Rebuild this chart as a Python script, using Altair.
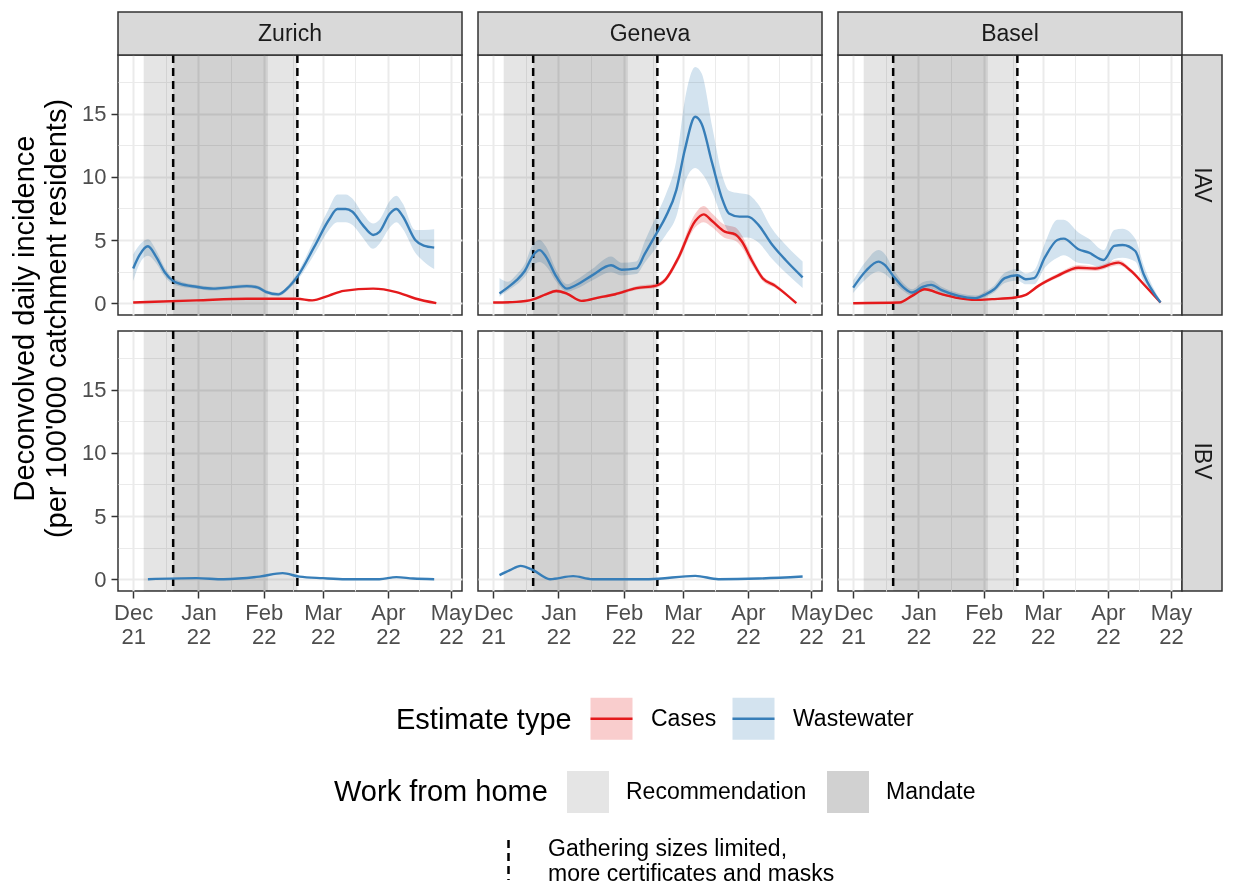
import altair as alt
import pandas as pd

# ---------------- data ----------------
START = "2021-12-01"  # day offsets below count from this date
CITIES = ["Zurich", "Geneva", "Basel"]
VIRUSES = ["IAV", "IBV"]
EST_TYPES = ["Cases", "Wastewater"]
EST_COLORS = ["#e41a1c", "#377eb8"]
EST_BAND_COLORS = ["#f9cdcd", "#d3e3ef"]
WFH_TYPES = ["Recommendation", "Mandate"]
WFH_START = ["2021-12-06", "2021-12-20", "2022-02-03"]
WFH_END = ["2021-12-20", "2022-02-03", "2022-02-17"]
WFH_KIND = ["Recommendation", "Mandate", "Recommendation"]
GATHER_DATES = ["2021-12-20", "2022-02-17"]
GATHER_LABEL = "Gathering sizes limited,\nmore certificates and masks"

# Zurich IAV
ZH_IAV_WW_DAY = [0, 3, 7, 11, 15, 19, 22, 30, 38, 46, 54, 59, 63, 69, 74, 78, 86, 93, 97, 101, 104, 109, 114, 117, 122, 125, 128, 134, 138, 143]
ZH_IAV_WW = [2.75, 3.8, 4.5, 3.65, 2.45, 1.75, 1.55, 1.3, 1.15, 1.25, 1.35, 1.25, 0.9, 0.7, 1.3, 2.1, 4.45, 6.6, 7.45, 7.45, 7.25, 6.2, 5.4, 5.65, 7.1, 7.45, 6.9, 5.0, 4.55, 4.4]
ZH_IAV_WW_LO = [1.75, 3.1, 3.75, 3.15, 2.1, 1.5, 1.35, 1.15, 1.0, 1.1, 1.2, 1.1, 0.75, 0.55, 1.1, 1.8, 3.85, 5.8, 6.4, 6.4, 6.2, 5.2, 4.3, 4.7, 6.0, 6.4, 5.9, 4.0, 3.3, 2.7]
ZH_IAV_WW_HI = [3.85, 4.6, 5.05, 4.15, 2.8, 2.0, 1.75, 1.45, 1.3, 1.4, 1.5, 1.4, 1.05, 0.85, 1.5, 2.4, 5.05, 7.5, 8.6, 8.6, 8.3, 7.1, 6.3, 6.6, 8.1, 8.5, 7.9, 5.8, 5.8, 5.85]
ZH_IAV_CASES_DAY = [0, 30, 54, 78, 85, 93, 100, 114, 125, 134, 144]
ZH_IAV_CASES = [0.05, 0.22, 0.35, 0.35, 0.22, 0.6, 0.97, 1.15, 0.88, 0.37, 0.0]

# Geneva IAV
GE_IAV_WW_DAY = [3, 7, 11, 15, 19, 22, 25, 30, 35, 39, 47, 56, 61, 68, 72, 78, 82, 87, 91, 96, 99, 104, 109, 112, 117, 121, 126, 132, 139, 147]
GE_IAV_WW = [0.77, 1.25, 1.8, 2.55, 3.8, 4.2, 3.7, 2.1, 1.15, 1.4, 2.2, 3.0, 2.65, 2.75, 3.9, 5.65, 6.85, 8.95, 12.1, 14.75, 14.2, 11.1, 8.15, 7.1, 6.85, 6.85, 6.2, 4.75, 3.4, 2.05]
GE_IAV_WW_LO = [0.5, 1.0, 1.45, 2.1, 3.0, 3.25, 2.95, 1.7, 0.9, 1.1, 1.8, 2.45, 2.2, 2.3, 3.2, 4.5, 5.4, 6.85, 9.5, 10.7, 10.3, 8.8, 6.6, 5.6, 5.2, 5.2, 4.8, 3.6, 2.4, 1.2]
GE_IAV_WW_HI = [2.0, 1.7, 2.25, 3.1, 4.7, 5.0, 4.5, 2.6, 1.5, 1.8, 2.7, 3.7, 3.2, 3.3, 4.9, 7.1, 8.6, 11.3, 16.0, 18.7, 18.2, 14.0, 10.0, 8.9, 8.7, 8.6, 7.8, 6.0, 4.6, 3.3]
GE_IAV_CASES_DAY = [0, 11, 19, 25, 30, 35, 42, 50, 58, 68, 77, 82, 88, 96, 100, 104, 110, 115, 118, 123, 128, 134, 144]
GE_IAV_CASES = [0.05, 0.1, 0.3, 0.7, 0.97, 0.76, 0.18, 0.44, 0.71, 1.19, 1.37, 1.9, 3.6, 6.5, 7.03, 6.5, 5.66, 5.45, 4.92, 3.34, 1.98, 1.37, 0.0]
GE_IAV_CASES_LO = [0.0, 0.05, 0.25, 0.6, 0.85, 0.65, 0.12, 0.35, 0.6, 1.05, 1.2, 1.7, 3.3, 6.0, 6.4, 6.0, 5.15, 4.95, 4.45, 3.0, 1.75, 1.2, 0.0]
GE_IAV_CASES_HI = [0.1, 0.15, 0.4, 0.8, 1.1, 0.87, 0.25, 0.55, 0.82, 1.35, 1.55, 2.1, 3.9, 7.1, 7.7, 7.1, 6.2, 6.0, 5.4, 3.7, 2.2, 1.55, 0.05]

# Basel IAV
BS_IAV_WW_DAY = [0, 6, 12, 15, 19, 24, 28, 33, 37, 42, 50, 58, 63, 67, 72, 78, 82, 86, 91, 97, 100, 107, 112, 119, 124, 128, 134, 138, 146]
BS_IAV_WW = [1.23, 2.55, 3.29, 3.03, 2.16, 1.23, 0.84, 1.29, 1.45, 1.03, 0.58, 0.4, 0.71, 1.1, 1.98, 2.21, 1.9, 1.98, 3.6, 5.0, 5.11, 4.27, 4.0, 3.42, 4.53, 4.61, 4.13, 2.29, 0.05]
BS_IAV_WW_LO = [0.8, 1.9, 2.5, 2.3, 1.7, 0.95, 0.6, 1.0, 1.15, 0.8, 0.4, 0.25, 0.5, 0.85, 1.6, 1.8, 1.5, 1.5, 2.8, 3.6, 3.8, 3.2, 3.1, 2.75, 3.5, 3.6, 3.3, 1.7, 0.0]
BS_IAV_WW_HI = [1.8, 3.3, 4.2, 3.9, 2.7, 1.55, 1.1, 1.65, 1.8, 1.3, 0.8, 0.6, 0.95, 1.4, 2.4, 2.7, 2.35, 2.6, 4.7, 6.6, 6.6, 5.6, 5.1, 4.2, 5.8, 5.9, 5.1, 3.0, 0.2]
BS_IAV_CASES_DAY = [0, 22, 28, 34, 42, 50, 58, 66, 77, 82, 88, 97, 107, 115, 126, 132, 138, 146]
BS_IAV_CASES = [0.0, 0.05, 0.58, 1.1, 0.71, 0.4, 0.26, 0.32, 0.45, 0.66, 1.37, 2.16, 2.81, 2.74, 3.21, 2.55, 1.5, 0.05]
BS_IAV_CASES_LO = [0.0, 0.02, 0.5, 1.0, 0.63, 0.34, 0.2, 0.26, 0.38, 0.58, 1.25, 2.0, 2.6, 2.55, 3.0, 2.38, 1.38, 0.0]
BS_IAV_CASES_HI = [0.05, 0.1, 0.66, 1.2, 0.8, 0.46, 0.32, 0.38, 0.52, 0.74, 1.5, 2.32, 3.02, 2.93, 3.42, 2.72, 1.62, 0.1]

# IBV (wastewater only)
ZH_IBV_WW_DAY = [7, 30, 43, 60, 71, 79, 90, 101, 117, 125, 133, 143]
ZH_IBV_WW = [0.0, 0.08, 0.0, 0.2, 0.48, 0.2, 0.08, 0.0, 0.0, 0.16, 0.05, 0.0]
GE_IBV_WW_DAY = [3, 8, 13, 19, 27, 38, 47, 74, 96, 107, 126, 147]
GE_IBV_WW = [0.32, 0.71, 1.05, 0.71, 0.0, 0.24, 0.0, 0.0, 0.26, 0.0, 0.05, 0.21]

# ---------------- layout / style constants ----------------
PANEL_W, PANEL_H, STRIP, RSTRIP = 344, 260, 43, 40
Y_DOMAIN = [-0.935, 19.64]
Y_GRID = [0, 2.5, 5, 7.5, 10, 12.5, 15, 17.5]
X_DOMAIN = [alt.DateTime(year=2021, month=11, date=23, hours=19),
            alt.DateTime(year=2022, month=5, date=6, hours=5)]
X_GRID = [alt.DateTime(year=2021, month=12, date=1), alt.DateTime(year=2021, month=12, date=16, hours=12),
          alt.DateTime(year=2022, month=1, date=1), alt.DateTime(year=2022, month=1, date=16, hours=12),
          alt.DateTime(year=2022, month=2, date=1), alt.DateTime(year=2022, month=2, date=15),
          alt.DateTime(year=2022, month=3, date=1), alt.DateTime(year=2022, month=3, date=16, hours=12),
          alt.DateTime(year=2022, month=4, date=1), alt.DateTime(year=2022, month=4, date=16),
          alt.DateTime(year=2022, month=5, date=1)]
FONT = "Liberation Sans"
TICK, LABEL, BIG = 22, 23, 29


def iso_from_days(days):
    base = pd.Timestamp(START)
    return [(base + pd.Timedelta(days=d)).strftime("%Y-%m-%dT%H:%M:%S") for d in days]


def iso(dates):
    return [pd.Timestamp(d).strftime("%Y-%m-%dT%H:%M:%S") for d in dates]


LINES = {
    ("Zurich", "IAV"): [("Cases", ZH_IAV_CASES_DAY, ZH_IAV_CASES), ("Wastewater", ZH_IAV_WW_DAY, ZH_IAV_WW)],
    ("Geneva", "IAV"): [("Cases", GE_IAV_CASES_DAY, GE_IAV_CASES), ("Wastewater", GE_IAV_WW_DAY, GE_IAV_WW)],
    ("Basel", "IAV"): [("Cases", BS_IAV_CASES_DAY, BS_IAV_CASES), ("Wastewater", BS_IAV_WW_DAY, BS_IAV_WW)],
    ("Zurich", "IBV"): [("Wastewater", ZH_IBV_WW_DAY, ZH_IBV_WW)],
    ("Geneva", "IBV"): [("Wastewater", GE_IBV_WW_DAY, GE_IBV_WW)],
    ("Basel", "IBV"): [],
}
BANDS = {
    ("Zurich", "IAV"): [("Wastewater", ZH_IAV_WW_DAY, ZH_IAV_WW_LO, ZH_IAV_WW_HI)],
    ("Geneva", "IAV"): [("Cases", GE_IAV_CASES_DAY, GE_IAV_CASES_LO, GE_IAV_CASES_HI),
                        ("Wastewater", GE_IAV_WW_DAY, GE_IAV_WW_LO, GE_IAV_WW_HI)],
    ("Basel", "IAV"): [("Cases", BS_IAV_CASES_DAY, BS_IAV_CASES_LO, BS_IAV_CASES_HI),
                       ("Wastewater", BS_IAV_WW_DAY, BS_IAV_WW_LO, BS_IAV_WW_HI)],
}

wfh_df = pd.DataFrame({"start": iso(WFH_START), "end": iso(WFH_END), "wfh": WFH_KIND})
gather_df = pd.DataFrame({"date": iso(GATHER_DATES), "measure": [GATHER_LABEL] * len(GATHER_DATES)})

# ---------------- legends ----------------
KEY = 42  # legend key side in px


def legend_common(**kw):
    d = dict(orient="none", direction="horizontal", titleOrient="left", titleFontSize=BIG,
             titleFontWeight="normal", titleFont=FONT, labelFont=FONT, labelFontSize=LABEL,
             titlePadding=17, labelOffset=17, columnPadding=14, padding=0,
             titleAnchor="middle", titleBaseline="middle", titleColor="black", labelColor="black",
             titleLimit=800, labelLimit=800)
    d.update(kw)
    return alt.Legend(**d)


# key = light square (band fill) with the estimate line through its middle:
# one closed path whose dash only strokes its first segment (the middle line)
KEY_PATH = "M-1,0L1,0L1,-1L-1,-1L-1,1L1,1L1,0Z"
EST_LEGEND = legend_common(title="Estimate type", legendX=278, legendY=641, symbolType=KEY_PATH,
                           symbolSize=KEY * KEY, symbolStrokeWidth=2.5, symbolDash=[KEY, 600],
                           symbolOpacity=1, columnPadding=10)
WFH_LEGEND = legend_common(title="Work from home", legendX=216, legendY=716, symbolType="square",
                           symbolSize=KEY * KEY, symbolStrokeWidth=0, titlePadding=19, columnPadding=20)
# vertical dashed key, drawn so that it is centred on the two-line label
GATHER_LEGEND = alt.Legend(title=None, orient="none", legendX=369, legendY=772,
                           symbolType="M0,-0.425L0,1.575",
                           symbolSize=40 * 40, symbolStrokeWidth=2.5, symbolStrokeColor="black",
                           labelExpr="split(datum.label, '\\n')", labelLimit=800, labelOffset=18,
                           labelFontSize=LABEL, labelFont=FONT, labelColor="black", padding=0)

MAJOR_X = "date(datum.value) == 1"
MAJOR_Y = "datum.value % 5 == 0"


def x_axis(show):
    common = dict(values=X_GRID, grid=True, gridColor="#ebebeb",
                  gridWidth={"condition": {"test": MAJOR_X, "value": 2}, "value": 1},
                  domain=False, title=None)
    if not show:
        return alt.Axis(labels=False, ticks=False, **common)
    return alt.Axis(labelExpr=MAJOR_X + " ? [timeFormat(datum.value, '%b'), timeFormat(datum.value, '%y')] : ''",
                    labelFontSize=TICK, labelColor="#4d4d4d", labelFont=FONT, labelLineHeight=24,
                    labelPadding=4, labelOverlap=False, labelFlush=False,
                    tickColor="#333333", tickSize=7, tickWidth=1.5,
                    tickOpacity={"condition": {"test": MAJOR_X, "value": 1}, "value": 0}, **common)


def y_axis(show, with_title):
    common = dict(values=Y_GRID, grid=True, gridColor="#ebebeb",
                  gridWidth={"condition": {"test": MAJOR_Y, "value": 2}, "value": 1}, domain=False)
    if not show:
        return alt.Axis(labels=False, ticks=False, title=None, **common)
    if with_title:
        extra = dict(title=["Deconvolved daily incidence", "(per 100'000 catchment residents)"],
                     titleFontSize=BIG, titleFontWeight="normal", titleColor="black", titleFont=FONT,
                     titleY=263, titlePadding=10, titleLineHeight=32)
    else:
        extra = dict(title=None)
    return alt.Axis(labelExpr=MAJOR_Y + " ? datum.label : ''", labelFontSize=TICK, labelColor="#4d4d4d",
                    labelFont=FONT, labelPadding=5, labelOverlap=False,
                    tickColor="#333333", tickSize=7, tickWidth=1.5,
                    tickOpacity={"condition": {"test": MAJOR_Y, "value": 1}, "value": 0}, **common, **extra)


def panel(ci, vi):
    city, virus = CITIES[ci], VIRUSES[vi]
    xs = alt.Scale(domain=X_DOMAIN, nice=False)
    ys = alt.Scale(domain=Y_DOMAIN, nice=False, zero=False)
    xa = x_axis(vi == 1)
    ya = y_axis(ci == 0, ci == 0 and vi == 0)

    shade = alt.Chart(wfh_df).mark_rect().encode(
        x=alt.X("start:T", scale=xs, axis=xa),
        x2="end:T",
        y=alt.YDatum(Y_DOMAIN[0], type="quantitative", scale=ys, axis=ya),
        y2=alt.Y2Datum(Y_DOMAIN[1]),
        color=alt.Color("wfh:N", scale=alt.Scale(domain=WFH_TYPES, range=["#000000", "#000000"]), legend=WFH_LEGEND),
        opacity=alt.Opacity("wfh:N", scale=alt.Scale(domain=WFH_TYPES, range=[0.1, 0.18]), legend=WFH_LEGEND),
    )
    layers = [shade]

    bands = BANDS.get((city, virus), [])
    if bands:
        rows = []
        for t, d, lo, hi in bands:
            for di, l, h in zip(iso_from_days(d), lo, hi):
                rows.append({"date": di, "lo": l, "hi": h, "type": t})
        layers.append(alt.Chart(pd.DataFrame(rows)).mark_area(interpolate="monotone", blend="multiply").encode(
            x=alt.X("date:T", scale=xs, axis=xa),
            y=alt.Y("lo:Q", scale=ys, axis=ya),
            y2="hi:Q",
            fill=alt.Fill("type:N", scale=alt.Scale(domain=EST_TYPES, range=EST_BAND_COLORS), legend=EST_LEGEND),
            detail="type:N",
        ))

    layers.append(alt.Chart(gather_df).mark_rule(color="black", strokeWidth=2.5).encode(
        x=alt.X("date:T", scale=xs, axis=xa),
        strokeDash=alt.StrokeDash("measure:N", scale=alt.Scale(domain=[GATHER_LABEL], range=[[8, 5]]),
                                  legend=GATHER_LEGEND),
    ))

    lines = LINES[(city, virus)]
    if lines:
        rows = []
        for t, d, v in lines:
            for di, vv in zip(iso_from_days(d), v):
                rows.append({"date": di, "value": vv, "type": t})
        layers.append(alt.Chart(pd.DataFrame(rows)).mark_line(interpolate="monotone", strokeWidth=2.4).encode(
            x=alt.X("date:T", scale=xs, axis=xa),
            y=alt.Y("value:Q", scale=ys, axis=ya),
            stroke=alt.Stroke("type:N", scale=alt.Scale(domain=EST_TYPES, range=EST_COLORS), legend=EST_LEGEND),
        ))

    if vi == 0:
        lab = pd.DataFrame({"label": [city]})
        layers.append(alt.Chart(lab).mark_rect(fill="#d9d9d9", stroke="#333333", strokeWidth=1.5).encode(
            x=alt.value(0), x2=alt.value(PANEL_W), y=alt.value(-STRIP), y2=alt.value(0)))
        layers.append(alt.Chart(lab).mark_text(fontSize=LABEL, color="#1a1a1a", font=FONT).encode(
            x=alt.value(PANEL_W / 2), y=alt.value(-STRIP / 2), text="label:N"))
    if ci == len(CITIES) - 1:
        lab = pd.DataFrame({"label": [virus]})
        layers.append(alt.Chart(lab).mark_rect(fill="#d9d9d9", stroke="#333333", strokeWidth=1.5).encode(
            x=alt.value(PANEL_W), x2=alt.value(PANEL_W + RSTRIP), y=alt.value(0), y2=alt.value(PANEL_H)))
        layers.append(alt.Chart(lab).mark_text(fontSize=LABEL, color="#1a1a1a", font=FONT, angle=90).encode(
            x=alt.value(PANEL_W + RSTRIP / 2), y=alt.value(PANEL_H / 2), text="label:N"))

    return alt.layer(*layers).properties(width=PANEL_W, height=PANEL_H)


panels = [panel(ci, vi) for vi in range(len(VIRUSES)) for ci in range(len(CITIES))]

chart = alt.concat(*panels, columns=3, spacing=16, bounds="flush").properties(
    padding={"left": 1, "top": 2, "right": 0, "bottom": 0}
).configure(font=FONT).configure_view(stroke="#333333", strokeWidth=1.5)

chart.save("out.html", embed_options={"renderer": "svg", "actions": False})
